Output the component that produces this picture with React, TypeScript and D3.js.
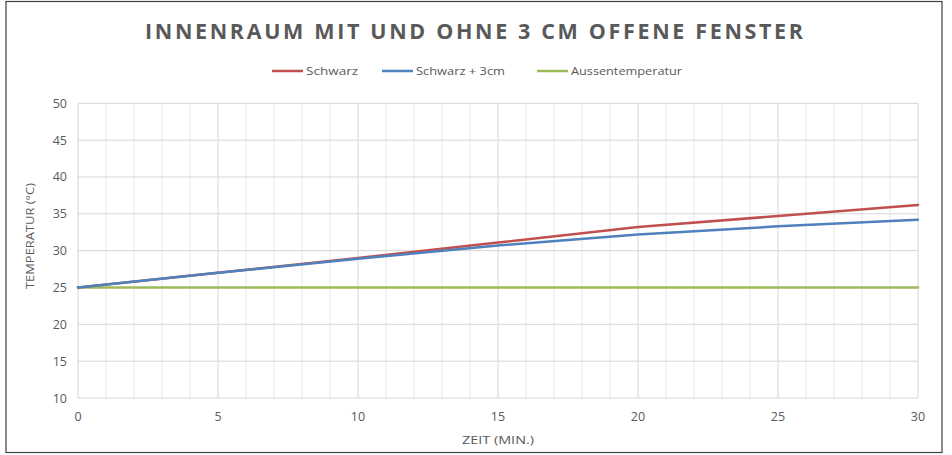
import React from "react";
import * as d3 from "d3";

const minutes = [0, 5, 10, 15, 20, 25, 30];
const schwarz = [25, 27, 29, 31.1, 33.2, 34.7, 36.2];
const schwarz3cm = [25, 27, 28.9, 30.7, 32.2, 33.3, 34.2];
const aussen = [25, 25, 25, 25, 25, 25, 25];
const seriesNames = ["Schwarz", "Schwarz + 3cm", "Aussentemperatur"];
const seriesColors = ["#C0504D", "#4F81BD", "#9BBB59"];
const xTicks = [0, 5, 10, 15, 20, 25, 30];
const yTicks = [10, 15, 20, 25, 30, 35, 40, 45, 50];
const title = "INNENRAUM MIT UND OHNE 3 CM OFFENE FENSTER";
const xTitle = "ZEIT (MIN.)";
const yTitle = "TEMPERATUR (°C)";

const W = 952;
const H = 455;
const left = 78;
const right = 918;
const top = 103.3;
const bottom = 398;

export default function App() {
  const x = d3.scaleLinear().domain([0, 30]).range([left, right]);
  const y = d3.scaleLinear().domain([10, 50]).range([bottom, top]);
  const line = d3
    .line<number>()
    .x((_, i) => x(minutes[i]))
    .y((d) => y(d));
  const series = [schwarz, schwarz3cm, aussen];
  const minor = d3.range(0, 31, 1);
  const legendX = [272, 382, 537];
  const legendTextW = [52, 89, 111];
  const font = "'Open Sans', sans-serif";
  const grey = "#595959";
  return (
    <svg
      width={W}
      height={H}
      style={{ position: "absolute", left: 0, top: 0, background: "#fff" }}
    >
      <rect x={0} y={0} width={W} height={H} fill="#fff" />
      <rect x={6} y={1.5} width={936} height={451} fill="none" stroke="#404040" strokeWidth={1.2} />
      <text
        x={474}
        y={38.5}
        textAnchor="middle"
        fontFamily={font}
        fontWeight="bold"
        fontSize={21.5}
        fill={grey}
        textLength={658}
        lengthAdjust="spacing"
      >
        {title}
      </text>
      {seriesNames.map((n, i) => (
        <g key={n}>
          <line x1={legendX[i]} x2={legendX[i] + 31} y1={71} y2={71} stroke={seriesColors[i]} strokeWidth={2.5} />
          <text
            x={legendX[i] + 34}
            y={75}
            fontFamily={font}
            fontSize={11}
            fill={grey}
            textLength={legendTextW[i]}
            lengthAdjust="spacingAndGlyphs"
          >
            {n}
          </text>
        </g>
      ))}
      {minor.map((m) => (
        <line
          key={"v" + m}
          x1={x(m)}
          x2={x(m)}
          y1={top}
          y2={bottom}
          stroke={m % 5 === 0 ? "#d6d6d6" : "#e6e6e6"}
          strokeWidth={1}
        />
      ))}
      {yTicks.map((t) => (
        <line key={"h" + t} x1={left} x2={right} y1={y(t)} y2={y(t)} stroke="#d6d6d6" strokeWidth={1} />
      ))}
      {yTicks.map((t) => (
        <text key={"yt" + t} x={67} y={y(t) + 4.5} textAnchor="end" fontFamily={font} fontSize={12.5} fill={grey}>
          {t}
        </text>
      ))}
      {xTicks.map((t) => (
        <text key={"xt" + t} x={x(t)} y={421} textAnchor="middle" fontFamily={font} fontSize={12.5} fill={grey}>
          {t}
        </text>
      ))}
      <text x={(left + right) / 2} y={444} textAnchor="middle" fontFamily={font} fontSize={11} fill={grey} textLength={72} lengthAdjust="spacingAndGlyphs">
        {xTitle}
      </text>
      <text
        transform={`translate(34, 236) rotate(-90)`}
        textAnchor="middle"
        fontFamily={font}
        fontSize={11}
        fill={grey}
        textLength={106}
        lengthAdjust="spacingAndGlyphs"
      >
        {yTitle}
      </text>
      {[aussen, schwarz, schwarz3cm].map((s, k) => {
        const idx = series.indexOf(s);
        return (
          <path key={k} d={line(s) || ""} fill="none" stroke={seriesColors[idx]} strokeWidth={2.5} strokeLinecap="round" />
        );
      })}
    </svg>
  );
}
